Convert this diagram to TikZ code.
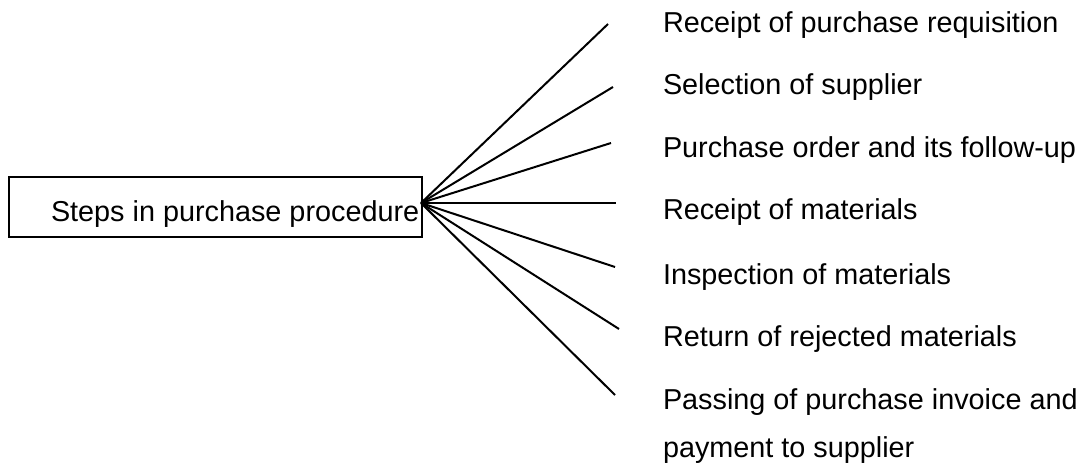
\documentclass[tikz,border=0pt]{standalone}
\usepackage{fontspec}
\setmainfont{Liberation Sans}

\tikzset{every picture/.style={line width=1.5pt}}
\tikzset{
  steptext/.style={anchor=base west, inner sep=0pt, align=left,
    font=\fontsize{21.6}{36}\selectfont},
  stepbox/.style={draw, inner sep=0pt, anchor=north west,
    minimum width=309.75pt, minimum height=45pt}
}

\begin{document}
\begin{tikzpicture}[x=0.75pt,y=0.75pt,yscale=-1,xscale=1]
	\useasboundingbox (0,0) rectangle (1088,466);

	%Shape: Rectangle
	\node [stepbox] (stepsbox) at (8,176) {};
	% Text Node
	\node [steptext] (stepslabel) at (50,222) {Steps in purchase procedure};

	%Straight Lines (fan)
	\coordinate (hub) at (421,203);
	\foreach \ex/\ey/\ty/\txt [count=\i] in {
		608/24/33/{Receipt of purchase requisition},
		613/87/95/{Selection of supplier},
		611/143/158/{Purchase order and its follow-up},
		616/203/220/{Receipt of materials},
		615/267/285/{Inspection of materials},
		619/329/347/{Return of rejected materials},
		615/395/457/{Passing of purchase invoice and\\payment to supplier}} {
		\coordinate (end\i) at (\ex,\ey);
		\draw (hub) -- (end\i);
		% Text Node
		\node [steptext] (step\i) at (662,\ty) {\txt};
	}

\end{tikzpicture}
\end{document}
